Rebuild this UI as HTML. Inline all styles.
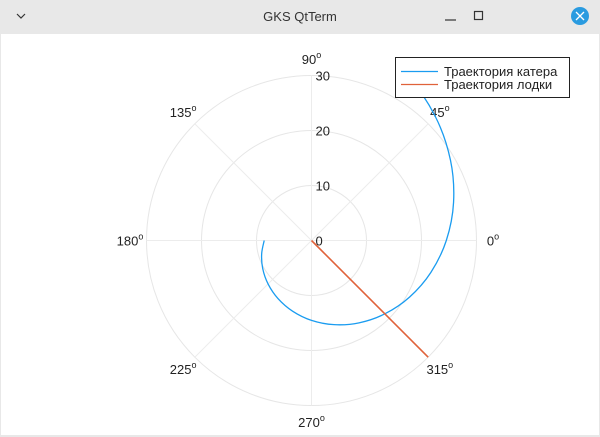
<!DOCTYPE html>
<html><head><meta charset="utf-8"><style>
body{margin:0;width:600px;height:437px;overflow:hidden;background:#e8e8e8;font-family:"Liberation Sans","DejaVu Sans",sans-serif}
#title{position:absolute;left:0;top:0;width:600px;height:34px;background:#e8e8e8}
#win{position:absolute;left:1px;top:34px;width:598px;height:401px;background:#fff}
</style></head><body>
<div id="title">
<svg width="600" height="34">
<path d="M17 14 L21 18 L25 14" stroke="#333" fill="none" stroke-width="1.2"/>
<text x="300" y="21" text-anchor="middle" font-size="13" fill="#333" font-family="Liberation Sans,DejaVu Sans,sans-serif">GKS QtTerm</text>
<line x1="445" y1="20" x2="456" y2="20" stroke="#333" stroke-width="1.2"/>
<rect x="474.5" y="11.5" width="8" height="8" fill="none" stroke="#333" stroke-width="1.2"/>
<g><circle cx="580" cy="16" r="9" fill="#2a9be0"/><path d="M576 12 L584 20 M584 12 L576 20" stroke="#fff" stroke-width="1.3"/></g>
</svg></div>
<div id="win"></div>
<svg id="chart" width="600" height="437" style="position:absolute;left:0;top:0">
<defs><clipPath id="clp"><rect x="0" y="72" width="600" height="365"/></clipPath></defs>
</svg>
<script>
const rTicks=[0,10,20,30];
const angleTicks=[0,45,90,135,180,225,270,315];
const boatTheta=[315,315];
const boatR=[0,30];
const cutterTheta=[180,195,210,225,240,255,270,285,300,315,330,345,360,375,390,405,420,435];
const cutterR=[8.6,9.38,10.24,11.17,12.19,13.3,14.52,15.84,17.29,18.86,20.58,22.46,24.51,26.74,29.18,31.85,34.75,37.92];
const NS="http://www.w3.org/2000/svg";
const svg=document.getElementById('chart');
const cx=311.5,cy=240.5,R=165,rMax=30;
function rs(r){return r/rMax*R;}
function px(t,r){return cx+rs(r)*Math.cos(t*Math.PI/180);}
function py(t,r){return cy-rs(r)*Math.sin(t*Math.PI/180);}
function mk(tag,attrs){const e=document.createElementNS(NS,tag);for(const k in attrs)e.setAttribute(k,attrs[k]);svg.appendChild(e);return e;}
rTicks.forEach(v=>{if(v>0){const c=mk('circle',{cx:cx,cy:cy,r:rs(v),fill:'none',stroke:'#e6e6e6','stroke-width':1});

}});
angleTicks.forEach(a=>{const l=mk('line',{x1:cx,y1:cy,x2:px(a,rMax),y2:py(a,rMax),stroke:'#ececec','stroke-width':1});

});
angleTicks.forEach(a=>{const lx=px(a,rMax*1.1),ly=py(a,rMax*1.1)+5;
const t=mk('text',{x:lx,y:ly,'text-anchor':'middle','font-size':13,fill:'#222'});


t.innerHTML=a+'<tspan dy="-6" font-size="9">o</tspan>';});
rTicks.forEach(v=>{const t=mk('text',{x:cx+4,y:cy-rs(v)+5,'font-size':13,fill:'#222'});
t.textContent=v;

});
const pts=cutterTheta.map((t,i)=>[px(t,cutterR[i]),py(t,cutterR[i])]);
let d='M'+pts[0][0]+' '+pts[0][1];
for(let i=0;i<pts.length-1;i++){const p0=pts[Math.max(0,i-1)],p1=pts[i],p2=pts[i+1],p3=pts[Math.min(pts.length-1,i+2)];
d+=' C'+(p1[0]+(p2[0]-p0[0])/6)+' '+(p1[1]+(p2[1]-p0[1])/6)+' '+(p2[0]-(p3[0]-p1[0])/6)+' '+(p2[1]-(p3[1]-p1[1])/6)+' '+p2[0]+' '+p2[1];}
const cp=mk('path',{d:d,fill:'none',stroke:'#1a9cf0','stroke-width':1.3,'clip-path':'url(#clp)'});


const bp=mk('line',{x1:px(boatTheta[0],boatR[0]),y1:py(boatTheta[0],boatR[0]),x2:px(boatTheta[1],boatR[1]),y2:py(boatTheta[1],boatR[1]),stroke:'#e0623a','stroke-width':1.6});


const lg=mk('rect',{x:395.5,y:57.5,width:174,height:40,fill:'#fff',stroke:'#222','stroke-width':1});


[['Траектория катера','#1a9cf0'],['Траектория лодки','#e0623a']].forEach((e,i)=>{
const y=71.5+i*13;
const l=mk('line',{x1:401,y1:y,x2:438,y2:y,stroke:e[1],'stroke-width':1.3});


const t=mk('text',{x:444,y:y+4.5,'font-size':13,fill:'#222'});t.textContent=e[0];

});
</script>
</body></html>
